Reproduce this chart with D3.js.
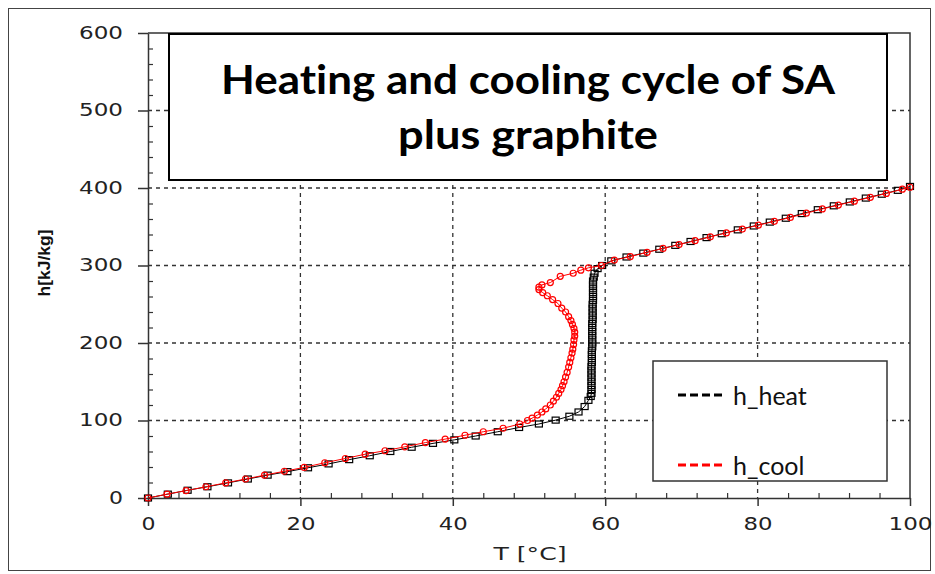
<!DOCTYPE html>
<html>
<head>
<meta charset="utf-8">
<script src="https://cdn.jsdelivr.net/npm/d3@7"></script>
<style>
  body { margin: 0; background: #fff; }
  svg { display: block; }
  text { font-variant-ligatures: none; }
</style>
</head>
<body>
<div id="chart"></div>
<script>
// heating curve: T [°C] and h [kJ/kg]
const heatT = [0, 2.6, 5.2, 7.8, 10.5, 13.1, 15.7, 18.3, 21, 23.7, 26.4, 29.1, 31.8, 34.6, 37.4, 40.2, 43, 45.9, 48.7, 51.3, 53.5, 55.3, 56.5, 57.3, 57.8, 58.1,
  58.2, 58.2, 58.2, 58.2, 58.2, 58.2, 58.2, 58.2, 58.25, 58.25, 58.25, 58.25, 58.3, 58.3, 58.3, 58.3, 58.3, 58.3, 58.3, 58.35, 58.35, 58.35, 58.35, 58.35, 58.4, 58.4, 58.4, 58.4, 58.4, 58.4, 58.5, 58.6,
  59, 59.6, 60.8, 62.8, 65, 67.1, 69.2, 71.2, 73.3, 75.3, 77.4, 79.5, 81.6, 83.7, 85.8, 87.9, 90, 92.1, 94.2, 96.3, 98.4, 100];
const heatH = [0, 5, 10, 14.5, 19.5, 24.5, 29.5, 34, 39, 44, 49.5, 54.5, 60, 65.5, 70.5, 75, 80, 85.5, 91, 95.5, 100.5, 105.5, 111, 118, 126, 131,
  135, 140, 145, 150, 155, 160, 165, 170, 175, 180, 185, 190, 195, 200, 205, 210, 215, 220, 225, 230, 235, 240, 245, 250, 255, 260, 265, 270, 275, 280, 285, 290,
  296, 300, 306, 311, 316, 321, 326, 331, 336, 341, 346, 351, 356, 361, 367, 372, 377, 382, 387, 392, 397, 402];

// cooling curve
const coolT = [0, 2.5, 5, 7.6, 10.2, 12.8, 15.3, 17.9, 20.5, 23.2, 25.9, 28.5, 31.1, 33.7, 36.4, 39, 41.6, 44, 46.6, 48.8,
  49.8, 50.4, 51.1, 51.7, 52.2, 52.8, 53.2, 53.6, 53.9, 54.2, 54.4, 54.6, 54.8, 55, 55.2, 55.35, 55.5, 55.65, 55.75, 55.85, 55.9, 56, 56, 55.9, 55.7, 55.5, 55.2, 54.8, 54.3, 53.8, 53.1, 52.4, 51.8, 51.3, 51.3, 51.7, 52.8, 54.1, 55.8, 56.8, 57.8, 59.5,
  61.2, 63.3, 65.5, 67.6, 69.7, 71.8, 73.8, 75.9, 78, 80.1, 82.2, 84.3, 86.4, 88.5, 90.6, 92.7, 94.8, 96.9, 99, 100];
const coolH = [0, 5, 9.5, 14.5, 19.5, 24.5, 29.5, 34.5, 39.5, 45.5, 51, 56.5, 61, 66, 71.5, 76, 81, 85.5, 90, 95.5,
  100, 103, 107, 111, 115, 120, 125, 130, 135, 140, 145, 150, 156, 162, 169, 175, 181, 187, 192, 198, 204, 209, 214, 219, 224, 229, 234, 240, 245, 251, 256, 261, 265, 269, 272, 275, 278, 286, 290, 294, 297, 300,
  307, 311.5, 317, 322, 327, 332, 337, 342, 347, 352, 357, 362, 367.5, 373, 378, 383, 388, 393, 398.5, 401];

const xTicks = [0, 20, 40, 60, 80, 100];
const yTicks = [0, 100, 200, 300, 400, 500, 600];
const xMinor = [4, 8, 12, 16, 24, 28, 32, 36, 44, 48, 52, 56, 64, 68, 72, 76, 84, 88, 92, 96];
const yMinor = [20, 40, 60, 80, 120, 140, 160, 180, 220, 240, 260, 280, 320, 340, 360, 380, 420, 440, 460, 480, 520, 540, 560, 580];
const titleLines = ["Heating and cooling cycle of SA", "plus graphite"];
const legendNames = ["h_heat", "h_cool"];
const legendColors = ["#000000", "#ff0000"];

const width = 935, height = 574;
const plotLeft = 148, plotRight = 910, plotTop = 33, plotBottom = 498;

const svg = d3.select("#chart").append("svg")
  .attr("width", width)
  .attr("height", height);

// outer frame
svg.append("rect")
  .attr("x", 8.5).attr("y", 8.5)
  .attr("width", 922).attr("height", 562)
  .attr("fill", "none").attr("stroke", "#444").attr("stroke-width", 1);

const x = d3.scaleLinear().domain([0, 100]).range([plotLeft, plotRight]);
const y = d3.scaleLinear().domain([0, 600]).range([plotBottom, plotTop]);

// dashed grid
const grid = svg.append("g").attr("stroke", "#333").attr("stroke-width", 1.3).attr("stroke-dasharray", "4,4");
grid.selectAll(".gx").data(xTicks.filter(d => d > 0 && d < 100)).enter().append("line")
  .attr("x1", d => x(d)).attr("x2", d => x(d)).attr("y1", plotTop).attr("y2", plotBottom);
grid.selectAll(".gy").data(yTicks.filter(d => d > 0 && d < 600)).enter().append("line")
  .attr("x1", plotLeft).attr("x2", plotRight).attr("y1", d => y(d)).attr("y2", d => y(d));

// plot frame (top and right)
svg.append("path")
  .attr("d", `M${plotLeft},${plotTop}H${plotRight}V${plotBottom}`)
  .attr("fill", "none").attr("stroke", "#333").attr("stroke-width", 1.5);

// axes
const labelStyle = sel => sel.selectAll("text")
  .attr("font-family", "DejaVu Sans, Verdana, sans-serif")
  .attr("font-size", 17)
  .attr("fill", "#222")
  .attr("textLength", function () { return this.textContent.length * 15 - 1; })
  .attr("lengthAdjust", "spacingAndGlyphs");

const yAxis = svg.append("g").attr("transform", `translate(${plotLeft},0)`)
  .call(d3.axisLeft(y).tickValues(yTicks).tickSize(10).tickPadding(15).tickSizeOuter(0));
const xAxis = svg.append("g").attr("transform", `translate(0,${plotBottom})`)
  .call(d3.axisBottom(x).tickValues(xTicks).tickSize(8).tickPadding(12).tickSizeOuter(0));
[yAxis, xAxis].forEach(a => {
  a.select(".domain").attr("stroke", "#333").attr("stroke-width", 1.5);
  a.selectAll(".tick line").attr("stroke", "#333").attr("stroke-width", 1.5);
  labelStyle(a);
});

const yMinorAxis = svg.append("g").attr("transform", `translate(${plotLeft},0)`)
  .call(d3.axisLeft(y).tickValues(yMinor).tickSize(-5).tickFormat("").tickSizeOuter(0));
const xMinorAxis = svg.append("g").attr("transform", `translate(0,${plotBottom})`)
  .call(d3.axisBottom(x).tickValues(xMinor).tickSize(-5).tickFormat("").tickSizeOuter(0));
[yMinorAxis, xMinorAxis].forEach(a => {
  a.select(".domain").remove();
  a.selectAll(".tick line").attr("stroke", "#333").attr("stroke-width", 1.2);
});

// axis titles
svg.append("text")
  .attr("x", 530).attr("y", 560)
  .attr("text-anchor", "middle")
  .attr("font-family", "DejaVu Sans, Verdana, sans-serif")
  .attr("font-size", 17).attr("fill", "#222")
  .attr("textLength", 73).attr("lengthAdjust", "spacingAndGlyphs")
  .text("T [°C]");

svg.append("text")
  .attr("transform", "translate(50,263) rotate(-90)")
  .attr("text-anchor", "middle")
  .attr("font-family", "Liberation Sans, Arial, sans-serif")
  .attr("font-weight", "bold")
  .attr("font-size", 16).attr("fill", "#111")
  .attr("textLength", 67).attr("lengthAdjust", "spacingAndGlyphs")
  .text("h[kJ/kg]");

// curves
const line = d3.line().x(d => x(d[0])).y(d => y(d[1]));
const heat = heatT.map((t, i) => [t, heatH[i]]);
const cool = coolT.map((t, i) => [t, coolH[i]]);

svg.append("path").datum(heat)
  .attr("d", line).attr("fill", "none").attr("stroke", "#000").attr("stroke-width", 1);
svg.append("g").selectAll("rect").data(heat).enter().append("rect")
  .attr("x", d => x(d[0]) - 3.5).attr("y", d => y(d[1]) - 3)
  .attr("width", 7).attr("height", 6)
  .attr("fill", "none").attr("stroke", "#000").attr("stroke-width", 1.2);

svg.append("path").datum(cool)
  .attr("d", line).attr("fill", "none").attr("stroke", "#ff0000").attr("stroke-width", 1);
svg.append("g").selectAll("circle").data(cool).enter().append("circle")
  .attr("cx", d => x(d[0])).attr("cy", d => y(d[1]))
  .attr("r", 3)
  .attr("fill", "none").attr("stroke", "#ff0000").attr("stroke-width", 1.2);

// title box
svg.append("rect")
  .attr("x", 169).attr("y", 34)
  .attr("width", 718).attr("height", 146)
  .attr("fill", "#fff").attr("stroke", "#000").attr("stroke-width", 2);
svg.append("g").selectAll("text").data(titleLines).enter().append("text")
  .attr("x", 528).attr("y", (d, i) => 94 + i * 55)
  .attr("text-anchor", "middle")
  .attr("font-family", "Lato, Open Sans, sans-serif")
  .attr("font-weight", "bold")
  .attr("font-size", 40)
  .attr("fill", "#000")
  .attr("textLength", (d, i) => i === 0 ? 614 : 260)
  .attr("lengthAdjust", "spacingAndGlyphs")
  .text(d => d);

// legend
const legend = svg.append("g");
legend.append("rect")
  .attr("x", 653).attr("y", 361)
  .attr("width", 234).attr("height", 120)
  .attr("fill", "#fff").attr("stroke", "#333").attr("stroke-width", 1.5);
const item = legend.selectAll(".item").data(legendNames).enter().append("g")
  .attr("transform", (d, i) => `translate(0,${395 + i * 70})`);
item.append("line")
  .attr("x1", 678).attr("x2", 723)
  .attr("stroke", (d, i) => legendColors[i])
  .attr("stroke-width", 3).attr("stroke-dasharray", "8,4");
item.append("text")
  .attr("x", 733).attr("y", 10)
  .attr("font-family", "Lato, Open Sans, sans-serif")
  .attr("font-size", 25)
  .attr("fill", "#111")
  .text(d => d);
</script>
</body>
</html>
